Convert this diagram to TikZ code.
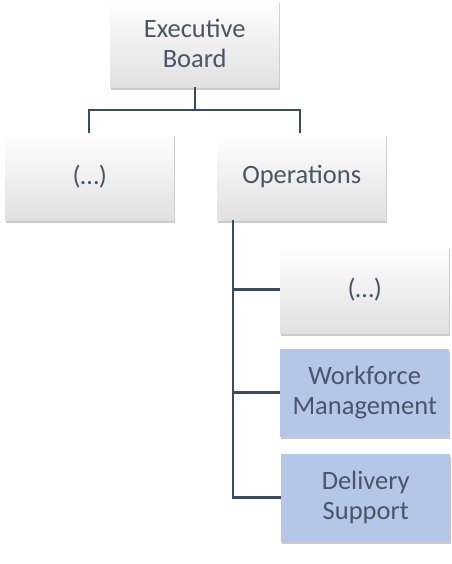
\documentclass[tikz,border=0pt]{standalone}
\usepackage{fontspec}
\setmainfont{Carlito}
\usetikzlibrary{shadows}
\definecolor{linec}{HTML}{3B4A5E}
\definecolor{textc}{HTML}{4A5568}
\definecolor{bluef}{HTML}{B4C7E7}
\tikzset{
  box/.style={draw=none, minimum width=169pt, minimum height=87pt, inner sep=0pt,
    align=center, text=textc, font=\fontsize{26.5}{30}\selectfont,
    top color=white, bottom color=black!12,
    drop shadow={shadow xshift=1pt, shadow yshift=-3pt, opacity=0.35, fill=black!60}},
  bluebox/.style={box, top color=bluef, bottom color=bluef, fill=bluef},
  conn/.style={draw=linec, line width=2.6pt}
}
\begin{document}
\begin{tikzpicture}[x=1pt,y=-1pt]
\useasboundingbox (0,0) rectangle (451,564);
\node[box, anchor=north west] (exec) at (110,0) {Executive\\Board};
\node[box, anchor=north west] (left) at (5,133) {(…)};
\node[box, anchor=north west] (ops) at (217,133) {Operations};
\node[box, anchor=north west] (sub) at (280,246) {(…)};
\node[bluebox, anchor=north west] (wfm) at (280,349) {Workforce\\Management};
\node[bluebox, anchor=north west] (ds) at (281,454) {Delivery\\Support};
\coordinate (bus) at (195,110);
\coordinate (spine) at (233,220);
\draw[conn] (exec.south -| bus) -- (bus);
\draw[conn] (left.north -| 89,0) |- (bus) -| (ops.north -| 300,0);
\draw[conn] (spine) |- (ds.west);
\draw[conn] (sub.west) -- (sub.west -| spine);
\draw[conn] (wfm.west) -- (wfm.west -| spine);
\end{tikzpicture}
\end{document}
